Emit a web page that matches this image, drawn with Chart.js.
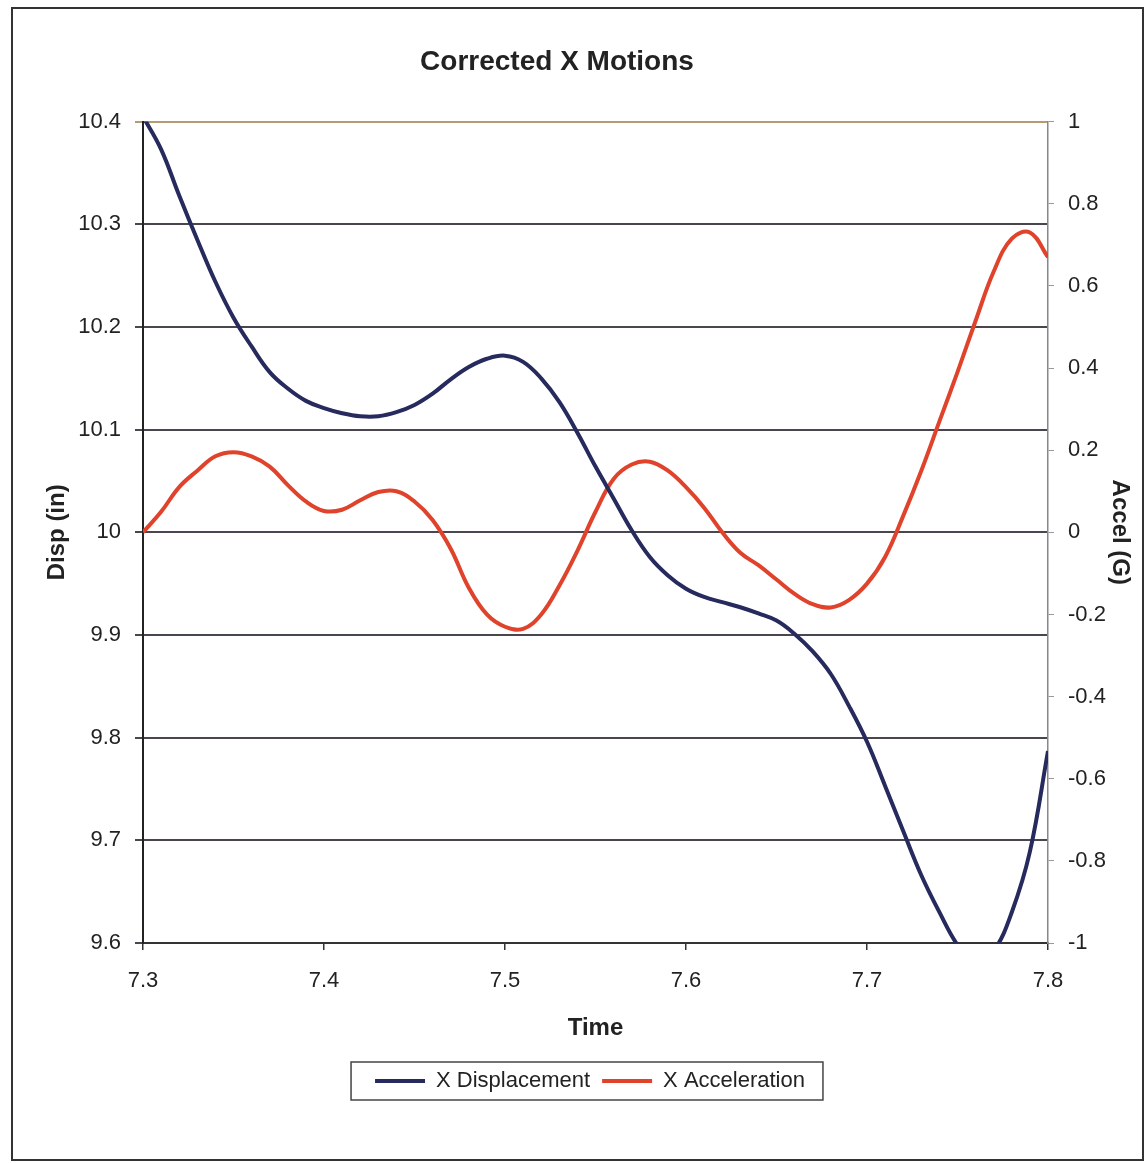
<!DOCTYPE html>
<html>
<head>
<meta charset="utf-8">
<script src="https://cdn.jsdelivr.net/npm/chart.js@4.4.1/dist/chart.umd.min.js"></script>
<style>
  html, body { margin: 0; padding: 0; background: #fff; }
  #wrap { position: relative; width: 1145px; height: 1163px; }
</style>
</head>
<body>
<div id="wrap"><canvas id="motions"></canvas></div>
<script>
// time samples (s)
const times = [7.30, 7.31, 7.32, 7.33, 7.34, 7.35, 7.36, 7.37, 7.38, 7.39,
               7.40, 7.41, 7.42, 7.43, 7.44, 7.45, 7.46, 7.47, 7.48, 7.49,
               7.50, 7.51, 7.52, 7.53, 7.54, 7.55, 7.56, 7.57, 7.58, 7.59,
               7.60, 7.61, 7.62, 7.63, 7.64, 7.65, 7.66, 7.67, 7.68, 7.69,
               7.70, 7.71, 7.72, 7.73, 7.74, 7.75, 7.76, 7.77, 7.78, 7.79, 7.80];

// X displacement (in)
const dispValues = [10.405, 10.373, 10.328, 10.285, 10.244, 10.209, 10.181, 10.156, 10.140, 10.128,
                    10.121, 10.116, 10.113, 10.113, 10.117, 10.124, 10.135, 10.149, 10.161, 10.169,
                    10.172, 10.166, 10.150, 10.127, 10.097, 10.064, 10.033, 10.002, 9.976, 9.958,
                    9.945, 9.937, 9.932, 9.927, 9.921, 9.914, 9.901, 9.884, 9.862, 9.831,
                    9.796, 9.753, 9.709, 9.666, 9.630, 9.598, 9.578, 9.592, 9.630, 9.689, 9.787];

// X acceleration (G)
const accelValues = [0.00, 0.05, 0.11, 0.15, 0.185, 0.195, 0.185, 0.16, 0.115, 0.075,
                     0.052, 0.055, 0.078, 0.098, 0.10, 0.075, 0.03, -0.04, -0.135, -0.20,
                     -0.23, -0.235, -0.20, -0.13, -0.045, 0.05, 0.13, 0.165, 0.172, 0.15,
                     0.11, 0.06, 0.0, -0.05, -0.08, -0.115, -0.15, -0.175, -0.183, -0.165,
                     -0.125, -0.06, 0.04, 0.15, 0.27, 0.39, 0.515, 0.635, 0.715, 0.73, 0.67];

const timeTicks = [7.3, 7.4, 7.5, 7.6, 7.7, 7.8];
const dispTicks = [9.6, 9.7, 9.8, 9.9, 10, 10.1, 10.2, 10.3, 10.4];
const accelTicks = [-1, -0.8, -0.6, -0.4, -0.2, 0, 0.2, 0.4, 0.6, 0.8, 1];

const FONT = "'Liberation Sans', Arial, sans-serif";
const TXT = '#222';

const frame = {
    id: 'frame',
    afterLayout(chart) {
        // title sits a little left of the canvas centre
        chart.titleBlock.left = -31;
    },
    afterDraw(chart) {
        const ctx = chart.ctx;
        ctx.save();
        ctx.strokeStyle = '#333';
        ctx.lineWidth = 2;
        ctx.strokeRect(12, 8, 1131, 1152);
        // legend border
        const boxes = chart.legend.legendHitBoxes;
        if (boxes && boxes.length) {
            const l = Math.min(...boxes.map(b => b.left)) - 24;
            const r = Math.max(...boxes.map(b => b.left + b.width)) + 18;
            const t = Math.min(...boxes.map(b => b.top)) - 8;
            const bt = Math.max(...boxes.map(b => b.top + b.height)) + 8;
            ctx.strokeStyle = '#444';
            ctx.lineWidth = 1.5;
            ctx.strokeRect(l, t, r - l, bt - t);
        }
        ctx.restore();
    }
};

const toPoints = (vals) => vals.map((v, i) => ({ x: times[i], y: v }));

new Chart(document.getElementById('motions'), {
    type: 'line',
    data: {
        datasets: [{
            label: 'X Displacement',
            data: toPoints(dispValues),
            yAxisID: 'y',
            borderColor: '#262a5c',
            backgroundColor: '#262a5c',
            borderWidth: 4,
            pointRadius: 0,
            tension: 0.4
        }, {
            label: 'X Acceleration',
            data: toPoints(accelValues),
            yAxisID: 'y1',
            borderColor: '#e0432b',
            backgroundColor: '#e0432b',
            borderWidth: 4,
            pointRadius: 0,
            tension: 0.4
        }]
    },
    options: {
        responsive: true,
        maintainAspectRatio: false,
        animation: false,
        layout: { padding: { left: 35, right: 0, top: 30, bottom: 61 } },
        plugins: {
            title: {
                display: true,
                text: 'Corrected X Motions',
                color: TXT,
                font: { family: FONT, size: 28, weight: 'bold' },
                padding: { top: 15, bottom: 43 }
            },
            legend: {
                position: 'bottom',
                labels: {
                    color: TXT,
                    font: { family: FONT, size: 22 },
                    boxWidth: 50,
                    boxHeight: 4,
                    padding: 12,
                    generateLabels: (chart) => {
                        const items = Chart.defaults.plugins.legend.labels.generateLabels(chart);
                        items.forEach(it => { it.lineWidth = 0; });
                        return items;
                    }
                }
            },
            tooltip: { enabled: false }
        },
        scales: {
            x: {
                type: 'linear',
                min: 7.3,
                max: 7.8,
                afterBuildTicks: (s) => { s.ticks = timeTicks.map(v => ({ value: v })); },
                afterFit: (s) => { s.height = 115; },
                ticks: {
                    color: TXT,
                    font: { family: FONT, size: 22 },
                    padding: 18,
                    callback: (v) => v.toFixed(1)
                },
                grid: { drawOnChartArea: false, tickLength: 7, color: '#333', lineWidth: 1.5 },
                border: { color: '#333', width: 2 },
                title: {
                    display: true,
                    text: 'Time',
                    color: TXT,
                    font: { family: FONT, size: 24, weight: 'bold' },
                    padding: { top: 4, bottom: 15 }
                }
            },
            y: {
                position: 'left',
                min: 9.6,
                max: 10.4,
                afterBuildTicks: (s) => { s.ticks = dispTicks.map(v => ({ value: v })); },
                afterFit: (s) => { s.width = 108; },
                ticks: {
                    color: TXT,
                    font: { family: FONT, size: 22 },
                    padding: 14,
                    callback: (v) => String(Math.round(v * 10) / 10)
                },
                grid: {
                    tickLength: 8,
                    lineWidth: 2,
                    color: (c) => c.tick && c.tick.value >= 10.39 ? '#b59a72' : '#4b4550'
                },
                border: { color: '#222', width: 2 },
                title: {
                    display: true,
                    text: 'Disp (in)',
                    color: TXT,
                    font: { family: FONT, size: 24, weight: 'bold' },
                    padding: { top: 8, bottom: 4 }
                }
            },
            y1: {
                position: 'right',
                min: -1,
                max: 1,
                afterBuildTicks: (s) => { s.ticks = accelTicks.map(v => ({ value: v })); },
                afterFit: (s) => { s.width = 97; },
                ticks: {
                    color: TXT,
                    font: { family: FONT, size: 22 },
                    padding: 14,
                    callback: (v) => String(Math.round(v * 10) / 10)
                },
                grid: { drawOnChartArea: false, tickLength: 6, color: '#999' },
                border: { color: '#888', width: 1.5 },
                title: {
                    display: true,
                    text: 'Accel (G)',
                    color: TXT,
                    font: { family: FONT, size: 24, weight: 'bold' },
                    padding: { top: 11, bottom: 4 }
                }
            }
        }
    },
    plugins: [frame]
});
</script>
</body>
</html>
